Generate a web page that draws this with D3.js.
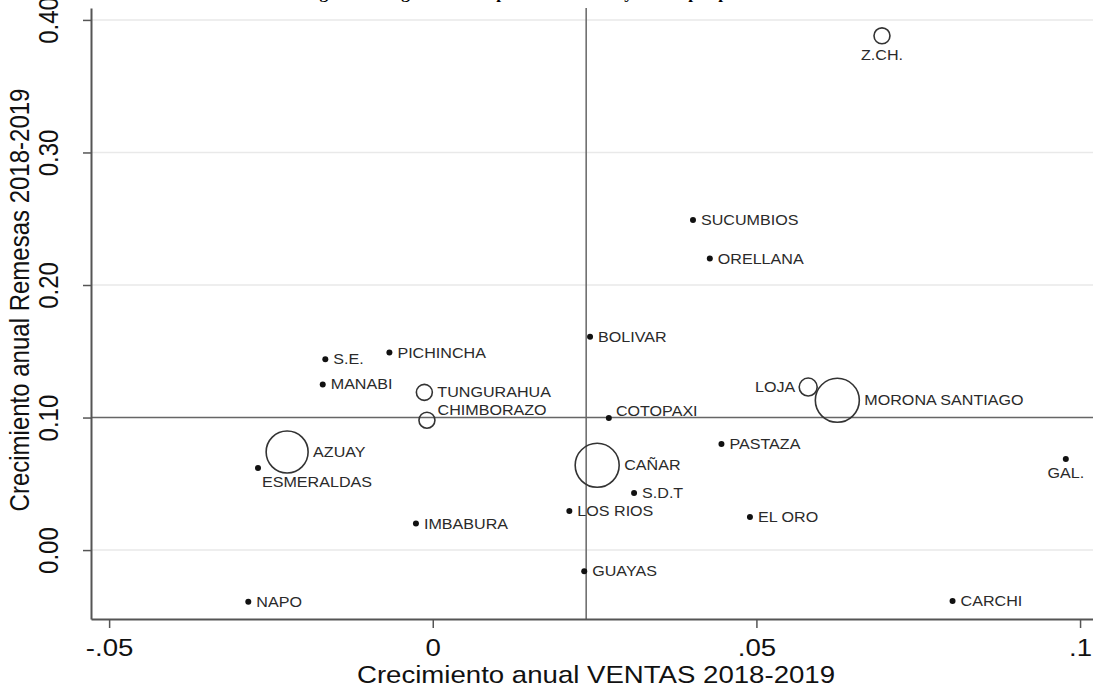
<!DOCTYPE html>
<html>
<head>
<meta charset="utf-8">
<script src="https://cdn.jsdelivr.net/npm/d3@7"></script>
<style>
  body { margin: 0; background: #fff; }
  svg { display: block; }
  text { font-family: "Liberation Sans", Arial, Helvetica, sans-serif; }
</style>
</head>
<body>
<div id="chart"></div>
<script>
// data
const provincias = ["Z.CH.", "SUCUMBIOS", "ORELLANA", "BOLIVAR", "PICHINCHA", "S.E.", "MANABI",
  "TUNGURAHUA", "CHIMBORAZO", "COTOPAXI", "LOJA", "MORONA SANTIAGO", "PASTAZA", "AZUAY",
  "ESMERALDAS", "CAÑAR", "GAL.", "S.D.T", "LOS RIOS", "EL ORO", "IMBABURA", "GUAYAS", "NAPO", "CARCHI"];
const ventas = [0.0694, 0.0402, 0.0428, 0.0243, -0.0067, -0.0166, -0.0170,
  -0.0013, -0.0009, 0.0272, 0.0580, 0.0625, 0.0446, -0.0225,
  -0.0270, 0.0254, 0.0978, 0.0311, 0.0211, 0.0490, -0.0026, 0.0234, -0.0285, 0.0803];
const remesas = [0.388, 0.249, 0.220, 0.161, 0.149, 0.144, 0.125,
  0.119, 0.098, 0.0996, 0.123, 0.113, 0.080, 0.074,
  0.062, 0.064, 0.0687, 0.043, 0.0294, 0.025, 0.020, -0.016, -0.039, -0.0385];
// weight of hollow markers (null = small solid dot)
const peso = [63, null, null, null, null, null, null,
  63, 63, null, 80, 478, null, 435,
  null, 478, null, null, null, null, null, null, null, null];
// label position: r right, ur upper right, l left, b below, br below right
const posEtiqueta = ["b", "r", "r", "r", "r", "r", "r",
  "r", "ur", "ur", "l", "r", "r", "r",
  "br", "r", "b", "r", "r", "r", "r", "r", "r", "r"];

const mediaVentas = 0.0237;
const mediaRemesas = 0.10;

const xTicks = [-0.05, 0, 0.05, 0.1];
const xTickLabels = ["-.05", "0", ".05", ".1"];
const yTicks = [0, 0.1, 0.2, 0.3, 0.4];
const yTickLabels = ["0.00", "0.10", "0.20", "0.30", "0.40"];

const titulo = "Figura 5. Diagrama de dispersión: remesas y ventas por provincia";
const xTitulo = "Crecimiento anual VENTAS 2018-2019";
const yTitulo = "Crecimiento anual Remesas 2018-2019";

const width = 1093, height = 688;
const margin = {left: 91, right: 1093, top: 8, bottom: 619};
const sx = 1.15; // the picture is a bit stretched sideways

const svg = d3.select("#chart").append("svg")
  .attr("width", width)
  .attr("height", height);

const x = d3.scaleLinear().domain([-0.0528, 0.1020]).range([margin.left, margin.right]);
const y = d3.scaleLinear().domain([-0.052, 0.409]).range([margin.bottom, margin.top]);
const r = d3.scaleSqrt().domain([0, 500]).range([0, 22.5]);

const data = provincias.map((p, i) => ({
  name: p, vx: ventas[i], vy: remesas[i], w: peso[i], pos: posEtiqueta[i]
}));

// title (cut at the top of the picture)
svg.append("text")
  .attr("transform", `translate(546,-1) scale(${sx},1)`)
  .attr("text-anchor", "middle")
  .style("font-family", '"Liberation Serif", "Times New Roman", serif')
  .style("font-weight", "bold")
  .style("font-size", "15px")
  .text(titulo);

// grid
svg.append("g")
  .selectAll("line")
  .data(yTicks.filter(d => d !== mediaRemesas))
  .join("line")
  .attr("x1", margin.left).attr("x2", margin.right)
  .attr("y1", d => y(d)).attr("y2", d => y(d))
  .attr("stroke", "#e9e9e9")
  .attr("stroke-width", 1.5);

// reference lines
svg.append("line")
  .attr("x1", margin.left).attr("x2", margin.right)
  .attr("y1", y(mediaRemesas)).attr("y2", y(mediaRemesas))
  .attr("stroke", "#666").attr("stroke-width", 1.5);
svg.append("line")
  .attr("x1", x(mediaVentas)).attr("x2", x(mediaVentas))
  .attr("y1", margin.top).attr("y2", margin.bottom)
  .attr("stroke", "#666").attr("stroke-width", 1.5);

// axes
const xAxis = d3.axisBottom(x)
  .tickValues(xTicks)
  .tickFormat((d, i) => xTickLabels[i])
  .tickSize(9)
  .tickSizeOuter(0);
const gx = svg.append("g")
  .attr("transform", `translate(0,${margin.bottom})`)
  .call(xAxis);
gx.select(".domain").attr("stroke", "#555").attr("stroke-width", 2);
gx.selectAll(".tick line").attr("stroke", "#555").attr("stroke-width", 1.5);
gx.selectAll(".tick text")
  .attr("y", null).attr("dy", null)
  .attr("transform", `translate(0,37) scale(${sx},1)`)
  .attr("fill", "#111")
  .style("font-size", "24px");

const yAxis = d3.axisLeft(y)
  .tickValues(yTicks)
  .tickFormat((d, i) => yTickLabels[i])
  .tickSize(8)
  .tickSizeOuter(0);
const gy = svg.append("g")
  .attr("transform", `translate(${margin.left},0)`)
  .call(yAxis);
gy.select(".domain").attr("stroke", "#555").attr("stroke-width", 2);
gy.selectAll(".tick line").attr("stroke", "#555").attr("stroke-width", 1.5);
gy.selectAll(".tick text")
  .attr("x", null).attr("dy", null)
  .attr("text-anchor", "middle")
  .attr("transform", `translate(-33,0) scale(${sx},1) rotate(-90)`)
  .attr("fill", "#111")
  .style("font-size", "24px");

// axis titles
svg.append("text")
  .attr("transform", `translate(596,683) scale(${sx},1)`)
  .attr("text-anchor", "middle")
  .attr("fill", "#111")
  .style("font-size", "24px")
  .text(xTitulo);
svg.append("text")
  .attr("transform", `translate(29,300) scale(${sx},1) rotate(-90)`)
  .attr("text-anchor", "middle")
  .attr("fill", "#111")
  .style("font-size", "24px")
  .text(yTitulo);

// markers
const pts = svg.append("g");
pts.selectAll("circle")
  .data(data)
  .join("circle")
  .attr("cx", d => x(d.vx))
  .attr("cy", d => y(d.vy))
  .attr("r", d => d.w == null ? 3 : r(d.w))
  .attr("fill", d => d.w == null ? "#111" : "none")
  .attr("stroke", d => d.w == null ? "none" : "#333")
  .attr("stroke-width", 1.6);

// labels
function labelPos(d) {
  const cx = x(d.vx), cy = y(d.vy);
  const rr = d.w == null ? 3 : r(d.w);
  switch (d.pos) {
    case "ur": return [cx + rr * 0.7 + 5, cy - rr * 0.7 - 5, "start"];
    case "l": return [cx - rr - 4, cy, "end"];
    case "b": return [cx, cy + rr + 11, "middle"];
    case "br": return [cx + 4, cy + 14, "start"];
    default: return [cx + rr + 5, cy, "start"];
  }
}

svg.append("g")
  .selectAll("text")
  .data(data)
  .join("text")
  .attr("transform", d => {
    const p = labelPos(d);
    return `translate(${p[0]},${p[1]}) scale(${sx},1)`;
  })
  .attr("text-anchor", d => labelPos(d)[2])
  .attr("dy", "0.36em")
  .attr("fill", "#2a2a2a")
  .style("font-size", "14px")
  .text(d => d.name);
</script>
</body>
</html>
